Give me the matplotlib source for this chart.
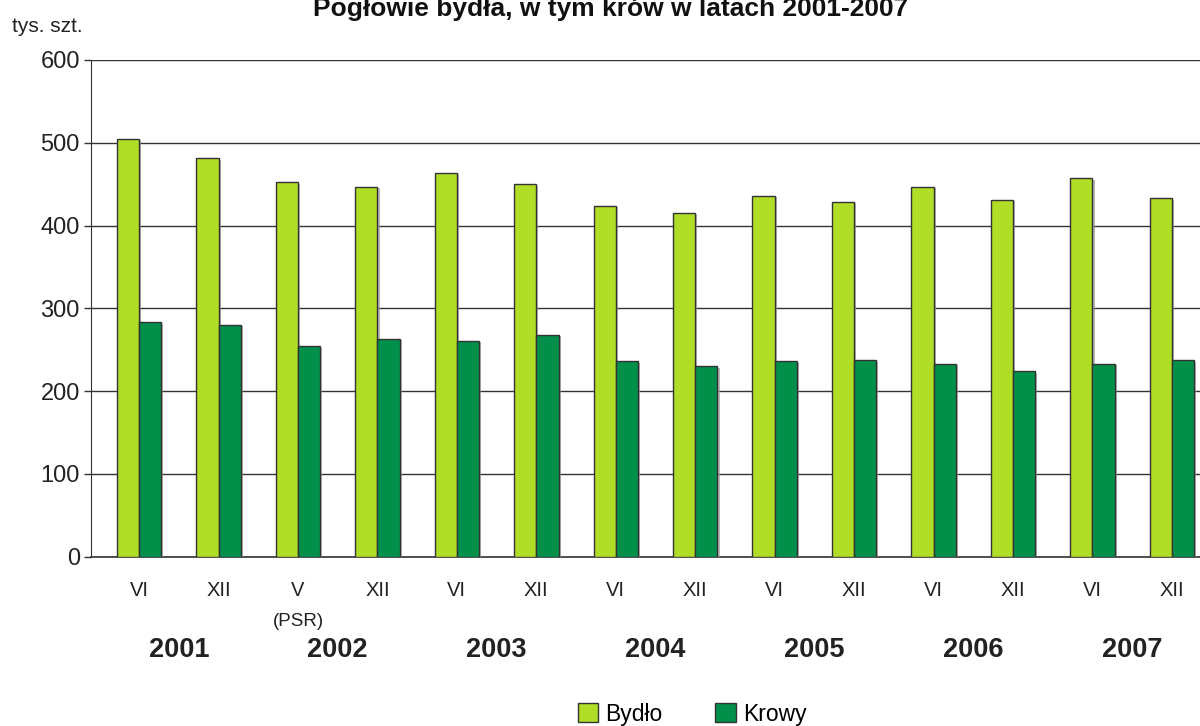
import numpy as np
import matplotlib
matplotlib.use("Agg")
import matplotlib.pyplot as plt
import matplotlib.patches as mpatches
import matplotlib.patheffects as pe
from matplotlib.transforms import blended_transform_factory

# Dane (tys. szt.)
months = ["VI", "XII", "V", "XII", "VI", "XII", "VI", "XII", "VI", "XII", "VI", "XII", "VI", "XII"]
years = ["2001", "2002", "2003", "2004", "2005", "2006", "2007"]
bydlo = [505, 481, 452, 447, 464, 450, 424, 415, 436, 429, 447, 431, 457, 433]
krowy = [283, 280, 254, 263, 261, 268, 236, 230, 236, 237, 233, 224, 233, 237]

C_BYDLO = "#B0DD26"
C_KROWY = "#00904A"
EDGE = "#333333"
TXT = "#222222"

plt.rcParams["font.family"] = ["Liberation Sans Narrow", "Liberation Sans"]

fig = plt.figure(figsize=(12, 7.26), dpi=100)
# os prawa wychodzi poza obrazek (jak w oryginale)
ax = fig.add_axes([91 / 1200, 1 - 556.5 / 726, 1129 / 1200, (556.5 - 60) / 726])

x = np.arange(len(months))
w = 0.28
shadow = [pe.SimplePatchShadow(offset=(1.5, -1.0), shadow_rgbFace="#9a9a9a", alpha=0.7), pe.Normal()]
b1 = ax.bar(x - w / 2, bydlo, w, color=C_BYDLO, edgecolor=EDGE, linewidth=1, zorder=3)
b2 = ax.bar(x + w / 2, krowy, w, color=C_KROWY, edgecolor=EDGE, linewidth=1, zorder=3)
for bar in list(b1) + list(b2):
    bar.set_path_effects(shadow)

ax.set_xlim(-0.605, len(months) - 1 + 0.605)
ax.set_ylim(0, 600)
ax.set_yticks(range(0, 601, 100))
ax.tick_params(axis="y", labelsize=17, length=5, width=1, color=EDGE, pad=3, labelcolor=TXT)
ax.set_xticks(x)
ax.set_xticklabels(months, fontsize=14.5, color=TXT)
ax.tick_params(axis="x", length=0, pad=18)

ax.yaxis.grid(True, color=EDGE, linewidth=1)
ax.set_axisbelow(True)
for s in ["top", "right"]:
    ax.spines[s].set_visible(False)
ax.spines["left"].set_color(EDGE)
ax.spines["bottom"].set_color(EDGE)
ax.spines["bottom"].set_linewidth(1.2)

# podpisy lat (pod parami miesiecy)
trans = blended_transform_factory(ax.transData, fig.transFigure)
for i, yr in enumerate(years):
    ax.text(2 * i + 0.5, 1 - 650 / 726, yr, transform=trans, ha="center", va="center",
            fontsize=19.5, fontweight="bold", color=TXT)
ax.text(2, 1 - 621 / 726, "(PSR)", transform=trans, ha="center", va="center",
        fontsize=13.5, color=TXT)

fig.text(12 / 1200, 1 - 27 / 726, "tys. szt.", ha="left", va="center", fontsize=15, color=TXT)
fig.text(611 / 1200, 1 - 16 / 726, "Pogłowie bydła, w tym krów w latach 2001-2007",
         ha="center", va="baseline", fontsize=19, fontweight="bold",
         family=["Liberation Sans"], color="#111111")

patches = [
    mpatches.Patch(facecolor=C_BYDLO, edgecolor=EDGE, label="Bydło"),
    mpatches.Patch(facecolor=C_KROWY, edgecolor=EDGE, label="Krowy"),
]
fig.legend(handles=patches, loc="center", bbox_to_anchor=(692 / 1200, 1 - 714 / 726), ncol=2,
           fontsize=16.5, frameon=False, handlelength=0.9, handleheight=0.9,
           handletextpad=0.3, columnspacing=2.3)

plt.savefig("out.png", dpi=100)
plt.close()
